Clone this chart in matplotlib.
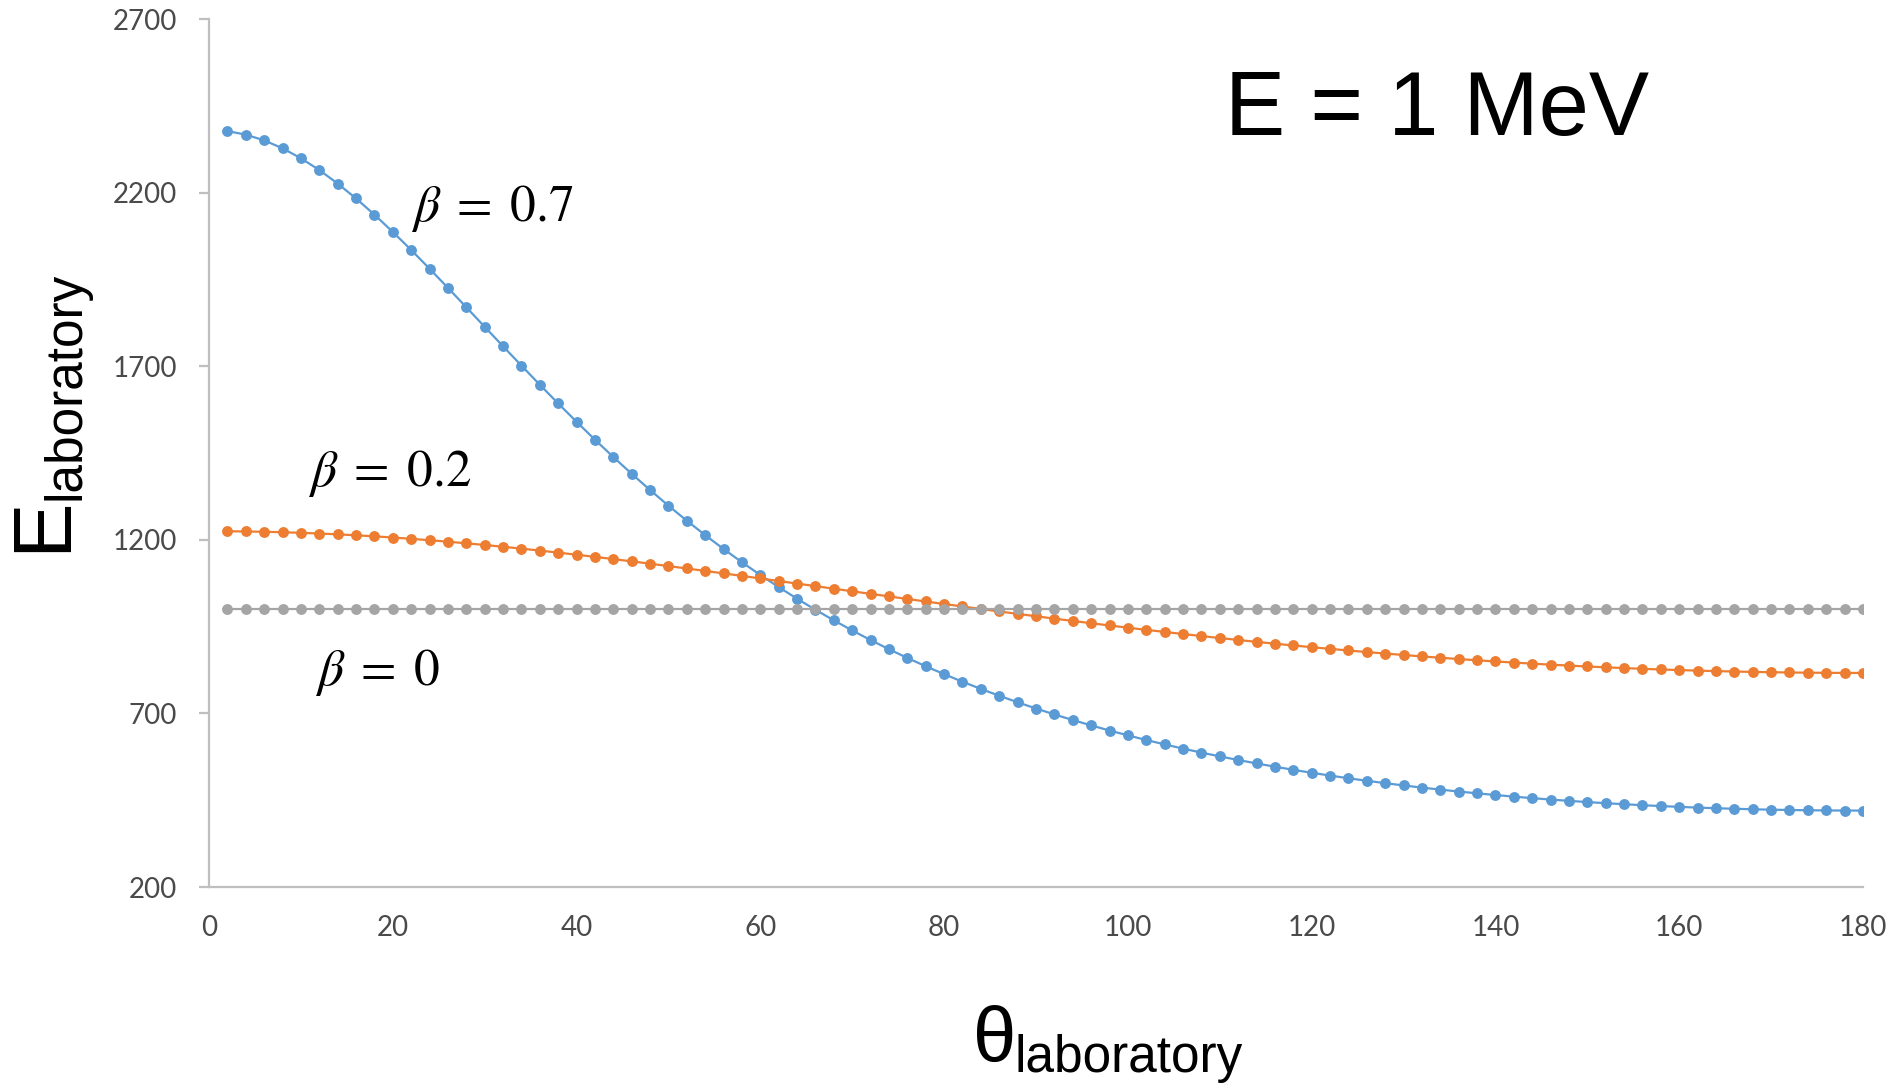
import matplotlib
matplotlib.use("Agg")
import matplotlib.pyplot as plt

# angles in degrees
theta = list(range(2, 181, 2))

e_b07 = [2377.1, 2367.0, 2350.4, 2327.6, 2299.0, 2265.0, 2226.2, 2183.1, 2136.5, 2086.8,
         2034.8, 1980.9, 1925.7, 1869.8, 1813.5, 1757.4, 1701.7, 1646.7, 1592.7, 1539.9,
         1488.4, 1438.5, 1390.1, 1343.4, 1298.3, 1255.0, 1213.4, 1173.5, 1135.3, 1098.7,
         1063.7, 1030.3, 998.4, 968.0, 938.9, 911.2, 884.9, 859.7, 835.8, 813.0,
         791.2, 770.5, 750.8, 732.0, 714.1, 697.1, 680.9, 665.5, 650.7, 636.7,
         623.4, 610.7, 598.6, 587.1, 576.2, 565.8, 555.9, 546.5, 537.5, 529.0,
         520.9, 513.2, 506.0, 499.1, 492.5, 486.3, 480.5, 475.0, 469.8, 464.9,
         460.3, 455.9, 451.9, 448.1, 444.6, 441.4, 438.4, 435.6, 433.1, 430.8,
         428.7, 426.9, 425.3, 423.9, 422.7, 421.8, 421.0, 420.5, 420.2, 420.1]

e_b02 = [1224.6, 1224.0, 1223.1, 1221.8, 1220.1, 1218.1, 1215.7, 1213.0, 1209.9, 1206.6,
         1202.8, 1198.8, 1194.5, 1189.9, 1185.1, 1179.9, 1174.6, 1168.9, 1163.1, 1157.1,
         1150.8, 1144.5, 1137.9, 1131.2, 1124.3, 1117.4, 1110.3, 1103.2, 1096.0, 1088.7,
         1081.3, 1073.9, 1066.6, 1059.2, 1051.7, 1044.3, 1037.0, 1029.6, 1022.3, 1015.1,
         1007.9, 1000.7, 993.7, 986.7, 979.8, 973.0, 966.3, 959.7, 953.3, 946.9,
         940.7, 934.6, 928.6, 922.8, 917.1, 911.5, 906.1, 900.8, 895.7, 890.7,
         885.9, 881.2, 876.7, 872.4, 868.2, 864.1, 860.3, 856.6, 853.0, 849.6,
         846.4, 843.3, 840.4, 837.7, 835.1, 832.7, 830.5, 828.4, 826.5, 824.8,
         823.2, 821.8, 820.6, 819.5, 818.6, 817.8, 817.3, 816.8, 816.6, 816.5]

e_b00 = [1000.0] * 90

x_ticks = [0, 20, 40, 60, 80, 100, 120, 140, 160, 180]
y_ticks = [200, 700, 1200, 1700, 2200, 2700]

plt.rcParams['mathtext.fontset'] = 'stix'

W, H = 1897, 1083
fig = plt.figure(figsize=(W / 100, H / 100), dpi=100)
ax = fig.add_axes([209 / W, 1 - 887 / H, (1863 - 209) / W, (887 - 19) / H])

ax.plot(theta, e_b07, '-o', color='#5B9BD5', lw=1.6, ms=6.8)
ax.plot(theta, e_b02, '-o', color='#ED7D31', lw=1.6, ms=6.8)
ax.plot(theta, e_b00, '-o', color='#A5A5A5', lw=1.6, ms=6.8)

ax.set_xlim(0, 180)
ax.set_ylim(200, 2700)
ax.set_xticks(x_ticks)
ax.set_yticks(y_ticks)
for s in ['top', 'right']:
    ax.spines[s].set_visible(False)
for s in ['left', 'bottom']:
    ax.spines[s].set_color('#BFBFBF')
    ax.spines[s].set_linewidth(1.6)
ax.tick_params(axis='y', length=7, width=1.6, color='#BFBFBF', pad=16,
               labelsize=20, labelcolor='#4A4A4A')
ax.tick_params(axis='x', length=0, pad=20, labelsize=20, labelcolor='#4A4A4A')
for lab in ax.get_xticklabels() + ax.get_yticklabels():
    lab.set_fontfamily('Lato')

# curve labels
ax.text(22.0, 2118, r'$\beta\;=\;0.7$', fontsize=37, ha='left', va='baseline')
ax.text(10.8, 1354, r'$\beta\;=\;0.2$', fontsize=37, ha='left', va='baseline')
ax.text(11.5, 782, r'$\beta\;=\;0$', fontsize=37, ha='left', va='baseline')

# title
fig.text(1225 / W, 1 - 135 / H, 'E = 1 MeV', fontsize=65, family='Liberation Sans',
         ha='left', va='baseline')

# axis labels made from two parts
fig.text(973 / W, 1 - 1062 / H, 'θ', fontsize=56, family='Liberation Sans',
         ha='left', va='baseline')
fig.text(1014 / W, 1 - 1072 / H, 'laboratory', fontsize=37, family='Liberation Sans',
         ha='left', va='baseline')
fig.text(4 / W, 1 - 552 / H, 'E', fontsize=60, family='Liberation Sans',
         rotation=90, ha='left', va='bottom')
fig.text(42 / W, 1 - 500 / H, 'laboratory', fontsize=37, family='Liberation Sans',
         rotation=90, ha='left', va='bottom')

fig.savefig('out.png', dpi=100)
